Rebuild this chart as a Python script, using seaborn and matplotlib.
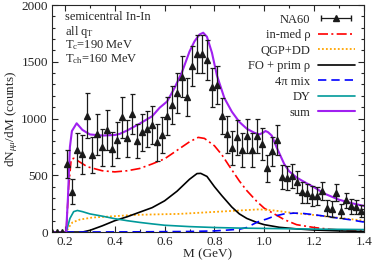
import pandas as pd
import seaborn as sns
import matplotlib.pyplot as plt
from matplotlib.lines import Line2D
from matplotlib.legend_handler import HandlerLine2D, HandlerTuple
from matplotlib.ticker import MultipleLocator

## NA60 data (M in GeV, counts, error)
na60_m = [0.15, 0.17, 0.19, 0.21, 0.23, 0.25, 0.27, 0.29, 0.31, 0.33, 0.35, 0.37, 0.39,
          0.41, 0.43, 0.45, 0.47, 0.49, 0.51, 0.53, 0.55, 0.57, 0.59, 0.61, 0.63, 0.65,
          0.67, 0.69, 0.71, 0.73, 0.75, 0.77, 0.79, 0.81, 0.83, 0.85, 0.87, 0.89, 0.91,
          0.93, 0.95, 0.97, 0.99, 1.01, 1.03, 1.05, 1.07, 1.09, 1.11, 1.13, 1.15, 1.17,
          1.19, 1.21, 1.23, 1.25, 1.27, 1.29, 1.31, 1.33, 1.35, 1.37, 1.39]
na60_y = [0, 0, 0, 599, 355, 722, 685, 1025, 678, 861, 746, 899, 728,
          810, 1010, 825, 1040, 805, 878, 907, 943, 790, 855, 1022, 1119, 1222,
          1368, 1190, 1460, 1570, 1570, 1518, 1275, 1295, 1020, 860, 740, 834, 722,
          846, 722, 846, 775, 561, 710, 810, 485, 478, 495, 440, 350, 341,
          317, 315, 365, 215, 200, 345, 185, 278, 226, 218, 185]
na60_err = [0, 0, 0, 125, 110, 150, 170, 200, 160, 180, 160, 180, 150,
            160, 180, 160, 180, 150, 160, 160, 170, 160, 160, 170, 170, 175,
            180, 170, 175, 170, 170, 175, 170, 165, 160, 160, 150, 155, 150,
            150, 150, 150, 140, 120, 125, 130, 110, 105, 105, 95, 90, 85,
            85, 80, 80, 70, 70, 75, 65, 70, 65, 60, 55]

## model curves
inmed_m = [0.15, 0.205, 0.215, 0.225, 0.235, 0.25, 0.29, 0.35, 0.40, 0.45, 0.50, 0.55, 0.60,
           0.65, 0.70, 0.735, 0.76, 0.80, 0.83, 0.86, 0.90, 0.93, 0.97, 1.00, 1.04, 1.08,
           1.13, 1.20, 1.26, 1.32, 1.40]
inmed_y = [0, 0, 400, 640, 650, 630, 575, 540, 530, 540, 560, 600, 645,
           720, 795, 834, 825, 760, 680, 580, 450, 365, 270, 210, 160, 110,
           65, 40, 25, 15, 10]

qgp_m = [0.15, 0.205, 0.215, 0.23, 0.26, 0.31, 0.40, 0.47, 0.55, 0.66, 0.70, 0.82, 0.90,
         0.98, 1.04, 1.10, 1.20, 1.26, 1.33, 1.40]
qgp_y = [0, 0, 40, 85, 110, 128, 140, 150, 155, 160, 165, 180, 190,
         200, 190, 172, 150, 135, 118, 100]

fo_m = [0.15, 0.27, 0.30, 0.35, 0.40, 0.45, 0.50, 0.55, 0.60, 0.65, 0.70, 0.73, 0.745,
        0.77, 0.80, 0.83, 0.87, 0.90, 0.93, 0.97, 1.00, 1.06, 1.13, 1.20, 1.30, 1.40]
fo_y = [0, 0, 15, 55, 100, 135, 175, 215, 275, 360, 465, 515, 517,
        490, 400, 320, 220, 160, 120, 85, 65, 42, 28, 18, 10, 6]

mix_m = [0.15, 0.21, 0.50, 0.70, 0.80, 0.85, 0.90, 0.93, 0.956, 0.98, 1.01, 1.04, 1.08,
         1.12, 1.16, 1.21, 1.28, 1.34, 1.40]
mix_y = [0, 0, 2, 5, 10, 17, 25, 40, 70, 95, 115, 140, 160,
         167, 163, 150, 128, 110, 88]

dy_m = [0.15, 0.205, 0.22, 0.235, 0.25, 0.27, 0.30, 0.35, 0.40, 0.45, 0.50, 0.55, 0.60,
        0.70, 0.80, 0.90, 1.00, 1.10, 1.20, 1.30, 1.40]
dy_y = [0, 0, 120, 180, 190, 180, 160, 140, 118, 100, 85, 72, 60,
        48, 40, 35, 32, 29, 26, 24, 22]

sum_m = [0.15, 0.205, 0.212, 0.22, 0.228, 0.247, 0.27, 0.30, 0.35, 0.40, 0.42, 0.45, 0.50,
         0.55, 0.58, 0.61, 0.64, 0.67, 0.70, 0.72, 0.74, 0.755, 0.77, 0.79, 0.81, 0.84,
         0.87, 0.90, 0.93, 0.96, 0.98, 0.995, 1.005, 1.015, 1.03, 1.05, 1.08, 1.10, 1.13,
         1.17, 1.20, 1.24, 1.30, 1.35, 1.40]
sum_y = [0, 0, 300, 750, 890, 958, 900, 860, 850, 855, 865, 895, 955,
         1020, 1095, 1150, 1270, 1410, 1590, 1680, 1740, 1756, 1720, 1580, 1380, 1180,
         1060, 970, 910, 875, 860, 875, 890, 880, 850, 745, 600, 535, 480,
         430, 395, 340, 285, 255, 230]

sns.set_theme(style="ticks")
plt.rcParams["font.family"] = ["Liberation Serif", "DejaVu Serif"]
plt.rcParams["mathtext.fontset"] = "custom"
plt.rcParams["mathtext.rm"] = "Liberation Serif"
plt.rcParams["mathtext.it"] = "Liberation Serif:italic"

fig = plt.figure(figsize=(3.74, 2.64), dpi=100)
ax = fig.add_axes([0.139, 0.121, 0.834, 0.860])

curves = [
    ("in-med ρ", inmed_m, inmed_y, "#ff0000", (0, (6, 2, 1.2, 2)), 1.2),
    ("QGP+DD", qgp_m, qgp_y, "#ffa500", (0, (1, 1.2)), 1.3),
    ("FO + prim ρ", fo_m, fo_y, "#000000", "-", 1.2),
    ("4π mix", mix_m, mix_y, "#0000ff", (0, (5, 3)), 1.2),
    ("DY", dy_m, dy_y, "#00999a", "-", 1.2),
    ("sum", sum_m, sum_y, "#a020f0", "-", 1.5),
]

handles = []
for name, xs, ys, col, ls, lw in curves:
    d = pd.DataFrame({"M": xs, "y": ys})
    sns.lineplot(data=d, x="M", y="y", ax=ax, color=col, lw=lw,
                 estimator=None, sort=False, zorder=2)
    ax.lines[-1].set_linestyle(ls)
    handles.append(Line2D([], [], color=col, lw=lw, linestyle=ls))

ax.errorbar(na60_m, na60_y, yerr=na60_err, fmt="^", color="k", ms=4,
            elinewidth=0.9, capsize=1.8, capthick=0.9, zorder=3)

ax.set_xlim(0.148, 1.4)
ax.set_ylim(0, 2000)
ax.xaxis.set_major_locator(MultipleLocator(0.2))
ax.xaxis.set_minor_locator(MultipleLocator(0.1))
ax.yaxis.set_major_locator(MultipleLocator(500))
ax.yaxis.set_minor_locator(MultipleLocator(100))
ax.tick_params(which="both", direction="in", top=True, right=True, labelsize=9.5,
               width=0.8, pad=3)
ax.tick_params(which="major", length=4)
ax.tick_params(which="minor", length=2)
for s in ax.spines.values():
    s.set_linewidth(0.8)

ax.set_xlabel("M (GeV)", fontsize=9.5, labelpad=0)
ax.set_ylabel(r"dN$_{\mu\mu}$/dM (counts)", fontsize=9.5, labelpad=1)

# top-left annotation
txt = dict(transform=ax.transAxes, fontsize=9, va="center")
ax.text(0.042, 0.947, "semicentral In-In", **txt)
ax.text(0.042, 0.883, r"all q$_\mathrm{T}$", **txt)
ax.text(0.042, 0.822, r"T$_\mathrm{c}$=190 MeV", **txt)
ax.text(0.042, 0.760, r"T$_\mathrm{ch}$=160 MeV", **txt)

# legend with errorbar-like handle for NA60
bar = Line2D([], [], color="k", lw=0.9, marker="|", ms=5)
tri = Line2D([], [], color="k", ls="none", marker="^", ms=4)
leg = ax.legend([(bar, tri)] + handles, ["NA60"] + [c[0] for c in curves],
                loc="upper right", markerfirst=False, frameon=False, fontsize=9,
                handlelength=3.0, labelspacing=0.28, handletextpad=0.6,
                borderaxespad=0.3,
                handler_map={bar: HandlerLine2D(numpoints=2),
                             tuple: HandlerTuple(ndivide=1, pad=0)})

fig.savefig("out.png", dpi=100)
